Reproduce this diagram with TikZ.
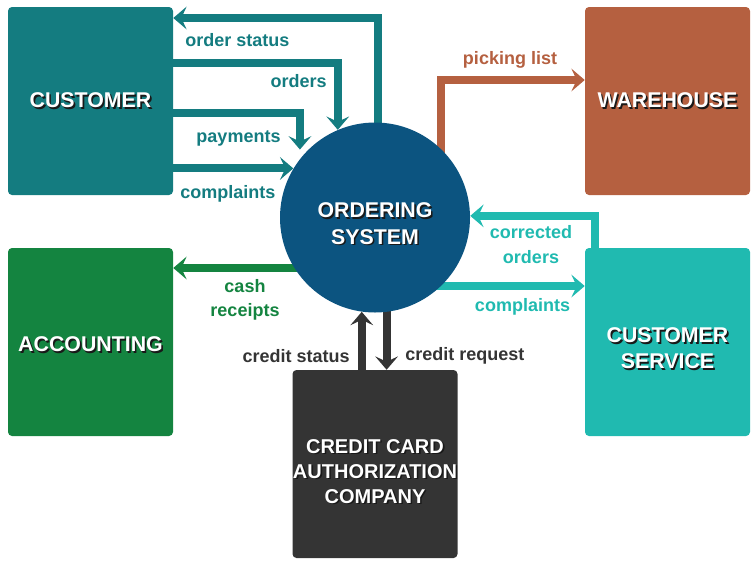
\documentclass[tikz,border=0pt]{standalone}
\usepackage{fontspec}
\setmainfont{Liberation Sans}
\usepackage{tikz}
\usetikzlibrary{arrows.meta,calc,backgrounds}
\definecolor{custteal}{RGB}{20,124,128}
\definecolor{whbrown}{RGB}{181,96,64}
\definecolor{accgreen}{RGB}{20,132,64}
\definecolor{csaqua}{RGB}{32,186,176}
\definecolor{ccgrey}{RGB}{52,52,52}
\definecolor{sysblue}{RGB}{12,84,128}
% white caps with a dark drop shadow
\newcommand{\shd}[1]{\leavevmode\rlap{\kern1.2pt\raisebox{-1.2pt}{\textcolor{black!90}{#1}}}#1}

\begin{document}
\begin{tikzpicture}[x=0.75pt,y=-0.75pt,>={Stealth[length=10pt,width=17pt,inset=4pt]},
     ent/.style={rounded corners=3pt,minimum width=123.75pt,minimum height=141pt,inner sep=0pt},
     etxt/.style={align=center,text=white,inner sep=0pt,font=\fontsize{16}{19.5}\selectfont\bfseries},
     flow/.style={->,line width=6pt,line join=miter},
     lbl/.style={font=\fontsize{13.5}{18.5}\selectfont\bfseries,align=center,inner sep=0pt}]
    \useasboundingbox (0,0) rectangle (756,562);
    \node[ent,fill=custteal,label={[etxt]center:\shd{CUSTOMER}}] (cust) at (90.5,101) {};
    \node[ent,fill=whbrown,label={[etxt]center:\shd{WAREHOUSE}}] (wh) at (667.5,101) {};
    \node[ent,fill=accgreen,label={[etxt,yshift=-2.25pt]center:\shd{ACCOUNTING}}] (acc) at (90.5,342) {};
    \node[ent,fill=csaqua,label={[etxt,yshift=-5.25pt]center:{\shd{CUSTOMER}\\ \shd{SERVICE}}}] (cs) at (667.5,342) {};
    \node[ent,fill=ccgrey,label={[etxt,yshift=-6pt,font=\fontsize{15}{18.75}\selectfont\bfseries]center:%
      {\shd{CREDIT CARD}\\ \shd{AUTHORIZATION}\\ \shd{COMPANY}}}] (cc) at (375,464) {};
    \node[circle,fill=sysblue,minimum size=142.5pt,inner sep=0pt,
      label={[etxt,yshift=-5.25pt,font=\fontsize{16}{20}\selectfont\bfseries]center:{\shd{ORDERING}\\ \shd{SYSTEM}}}] (sys) at (375,217.5) {};
    % flows behind the circle
    \begin{scope}[on background layer]
      \draw[flow,custteal] (sys.88.2 |- sys.center) |- ($(cust.east)+(0,-83)$);
      \draw[flow,custteal] ($(cust.east)+(0,-38)$) -| (sys.113.6);
      \draw[flow,custteal,shorten >=7pt] ($(cust.east)+(0,12)$) -| (sys.142.1);
      \draw[flow,custteal] (sys.149.7 -| cust.east) -- (sys.149.7);
      \draw[flow,whbrown] (sys.46.8 |- sys.center) |- ($(wh.west)+(0,-21)$);
      \draw[flow,csaqua] ($(cs.north)+(-72.5,0)$) |- (sys.1.8);
      \draw[flow,csaqua] (sys.center |- sys.-46.6) -- (sys.-46.6 -| cs.west);
      \draw[flow,accgreen] (sys.center |- sys.212.5) -- (sys.212.5 -| acc.east);
      \draw[flow,ccgrey] (sys.262.1 |- cc.north) -- (sys.262.1);
      \draw[flow,ccgrey] (sys.277.9 |- sys.center) -- (sys.277.9 |- cc.north);
    \end{scope}
    \node[lbl,text=custteal,anchor=west] (lstat) at (185,40) {order status};
    \node[lbl,text=custteal,anchor=east] (lord) at (327,81) {orders};
    \node[lbl,text=custteal] (lpay) at (238.5,138) {payments};
    \node[lbl,text=custteal,anchor=west] (lcmpl) at (180,194) {complaints};
    \node[lbl,text=whbrown] (lpick) at (510,60) {picking list};
    \node[lbl,text=csaqua] (lcorr) at (531,244.5) {corrected\\ orders};
    \node[lbl,text=csaqua] (lcmpr) at (522.5,307) {complaints};
    \node[lbl,text=accgreen] (lcash) at (245,300) {cash\\ receipts};
    \node[lbl,text=ccgrey,anchor=east] (lcst) at (350,356) {credit status};
    \node[lbl,text=ccgrey,anchor=west] (lcrq) at (405,356) {credit request};
  \end{tikzpicture}
\end{document}
